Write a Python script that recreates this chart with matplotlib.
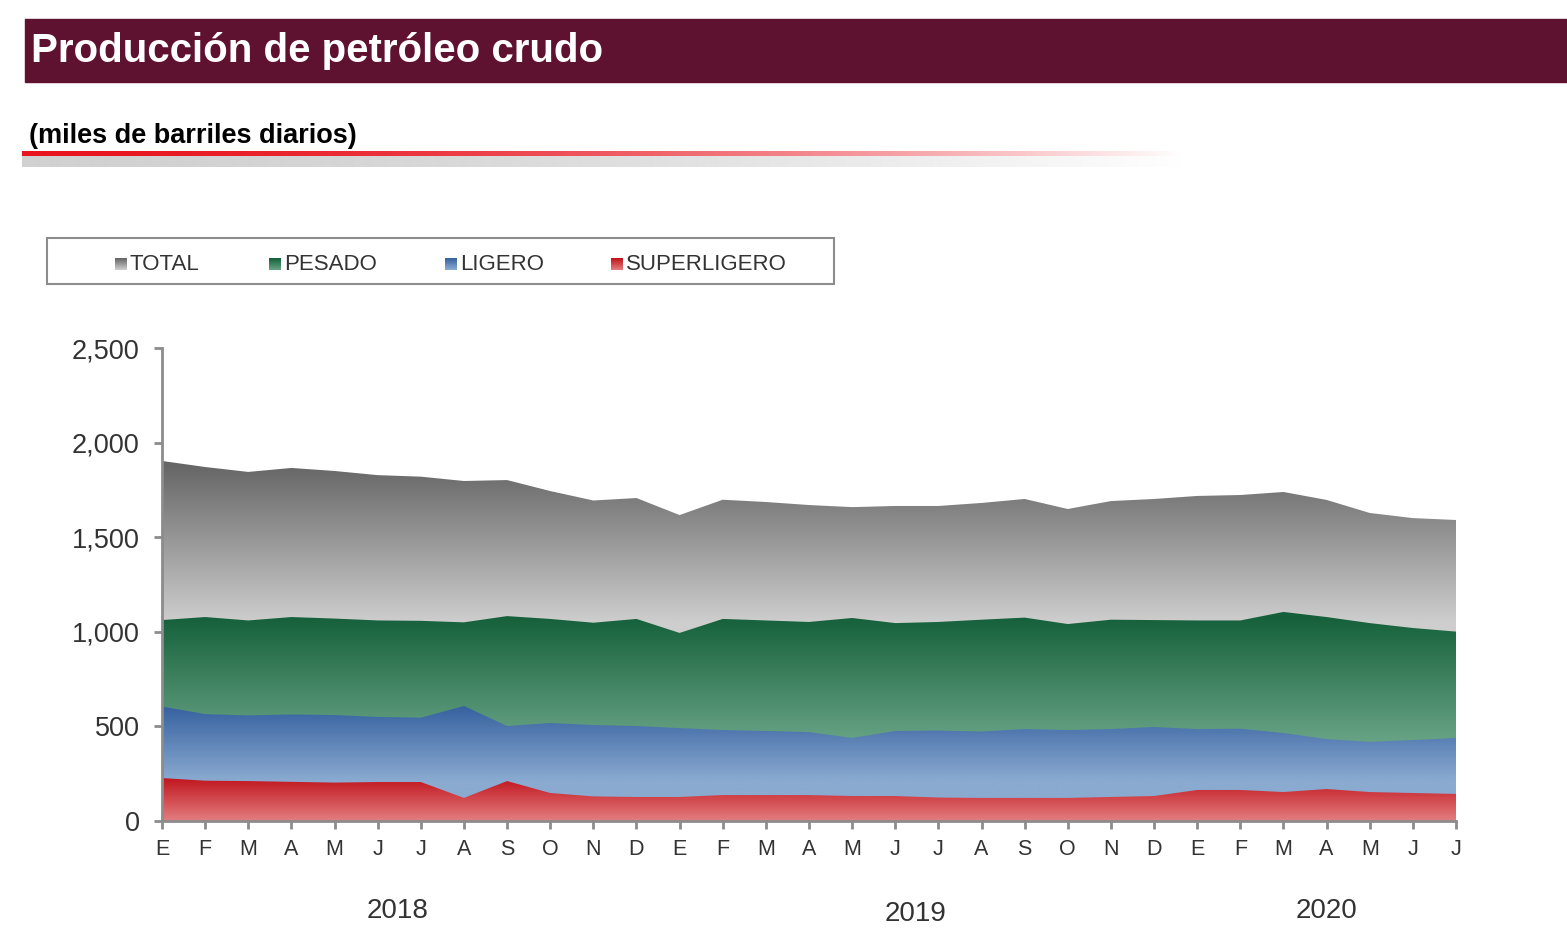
import matplotlib
matplotlib.use("Agg")
import matplotlib.pyplot as plt
import numpy as np
from matplotlib.colors import to_rgb
from matplotlib.patches import Rectangle

plt.rcParams['font.family'] = ['Liberation Sans', 'DejaVu Sans']

# datos (miles de barriles diarios), ene 2018 - jul 2020
meses = ["E", "F", "M", "A", "M", "J", "J", "A", "S", "O", "N", "D",
         "E", "F", "M", "A", "M", "J", "J", "A", "S", "O", "N", "D",
         "E", "F", "M", "A", "M", "J", "J"]
anios = ["2018", "2019", "2020"]

total = [1903, 1871, 1845, 1866, 1850, 1828, 1820, 1797, 1802, 1744, 1694, 1707,
         1617, 1698, 1686, 1670, 1659, 1665, 1665, 1681, 1702, 1649, 1691, 1702,
         1718, 1723, 1739, 1697, 1628, 1601, 1591]
pesado = [1062, 1078, 1060, 1078, 1070, 1060, 1058, 1050, 1083, 1068, 1048, 1068,
          994, 1068, 1060, 1052, 1073, 1046, 1052, 1064, 1075, 1041, 1064, 1062,
          1060, 1060, 1105, 1078, 1046, 1020, 1001]
ligero = [605, 565, 558, 563, 560, 550, 546, 608, 502, 518, 507, 502,
          491, 481, 476, 470, 439, 476, 478, 473, 486, 481, 486, 497,
          486, 488, 465, 433, 418, 428, 439]
superligero = [227, 213, 211, 207, 203, 206, 206, 122, 211, 148, 130, 127,
               127, 137, 137, 137, 132, 132, 124, 122, 122, 122, 127, 132,
               164, 164, 153, 169, 153, 148, 143]

x = np.arange(len(meses))

fig = plt.figure(figsize=(15.67, 9.51), dpi=100)

# banda del titulo
fig.patches.append(Rectangle((25 / 1567, 1 - 82 / 951), 1542 / 1567, 63 / 951,
                             transform=fig.transFigure, color="#5f1130", zorder=0))
fig.text(31 / 1567, 1 - 51 / 951, "Producción de petróleo crudo", color="white",
         fontsize=29, fontweight="bold", va="center", ha="left")
fig.text(29 / 1567, 1 - 136 / 951, "(miles de barriles diarios)", color="black",
         fontsize=19.5, fontweight="bold", va="center", ha="left")

# linea roja/gris que se desvanece
lax = fig.add_axes([22 / 1567, 1 - 167 / 951, 1163 / 1567, 16 / 951])
w = 400
t = np.linspace(0, 1, w)
fade = np.clip(1 - t ** 1.8, 0, 1)
band = np.zeros((16, w, 4))
band[:5, :, :3] = to_rgb("#e8141f")
band[:5, :, 3] = fade
band[5:, :, :3] = to_rgb("#cccccc")
band[5:, :, 3] = fade * 0.9
lax.imshow(band, aspect="auto", interpolation="bilinear")
lax.axis("off")

# leyenda
fig.patches.append(Rectangle((47 / 1567, 1 - 284 / 951), 787 / 1567, 46 / 951,
                             transform=fig.transFigure, fill=False,
                             edgecolor="#8c8c8c", linewidth=1.5))

series = [
    ("TOTAL", total, "#cecece", "#646464", 1050, 1900, 115),
    ("PESADO", pesado, "#66a284", "#15603b", 430, 1080, 269),
    ("LIGERO", ligero, "#8aaad0", "#3762a0", 210, 600, 445),
    ("SUPERLIGERO", superligero, "#e27c7e", "#c0121b", 0, 230, 611),
]


def gradiente(c_bajo, c_alto, lo, hi, n=256):
    yy = np.linspace(0, 2500, n)
    t = np.clip((yy - lo) / (hi - lo), 0, 1)[:, None]
    a = np.array(to_rgb(c_bajo))
    b = np.array(to_rgb(c_alto))
    return (a + (b - a) * t)[:, None, :]


for nombre, vals, cb, ca, lo, hi, lx in series:
    sq = fig.add_axes([lx / 1567, 1 - 270 / 951, 12 / 1567, 12 / 951])
    g = np.linspace(0, 1, 20)[:, None]
    img = np.array(to_rgb(cb)) + (np.array(to_rgb(ca)) - np.array(to_rgb(cb))) * g
    sq.imshow(img[:, None, :], aspect="auto", origin="lower")
    sq.axis("off")
    fig.text((lx + 15) / 1567, 1 - 264 / 951, nombre, fontsize=16,
             color="#333333", va="center", ha="left")

# grafica
ax = fig.add_axes([162 / 1567, 130 / 951, 1294 / 1567, 473 / 951])
for nombre, vals, cb, ca, lo, hi, lx in series:
    poly = ax.fill_between(x, 0, vals, facecolor="none", edgecolor="none")
    im = ax.imshow(gradiente(cb, ca, lo, hi), extent=[x[0], x[-1], 0, 2500],
                   origin="lower", aspect="auto", interpolation="bilinear")
    im.set_clip_path(poly.get_paths()[0], transform=ax.transData)

ax.set_xlim(x[0], x[-1])
ax.set_ylim(0, 2500)
ax.set_yticks(np.arange(0, 2501, 500))
ax.set_yticklabels([f"{v:,}" for v in range(0, 2501, 500)])
ax.set_xticks(x)
ax.set_xticklabels(meses)
for s in ["top", "right"]:
    ax.spines[s].set_visible(False)
for s in ["left", "bottom"]:
    ax.spines[s].set_color("#8c8c8c")
    ax.spines[s].set_linewidth(2)
ax.tick_params(axis="y", direction="out", length=6, width=2, color="#8c8c8c",
               labelsize=19.5, labelcolor="#333333", pad=10)
ax.tick_params(axis="x", direction="out", length=6, width=2, color="#8c8c8c",
               labelsize=15.5, labelcolor="#333333", pad=7)

for anio, xp, yp in zip(anios, [5.45, 17.46, 27.0], [-0.191, -0.196, -0.191]):
    ax.text(xp, yp, anio, transform=ax.get_xaxis_transform(), fontsize=20,
            color="#333333", ha="center", va="center")

fig.savefig("out.png", dpi=100)
